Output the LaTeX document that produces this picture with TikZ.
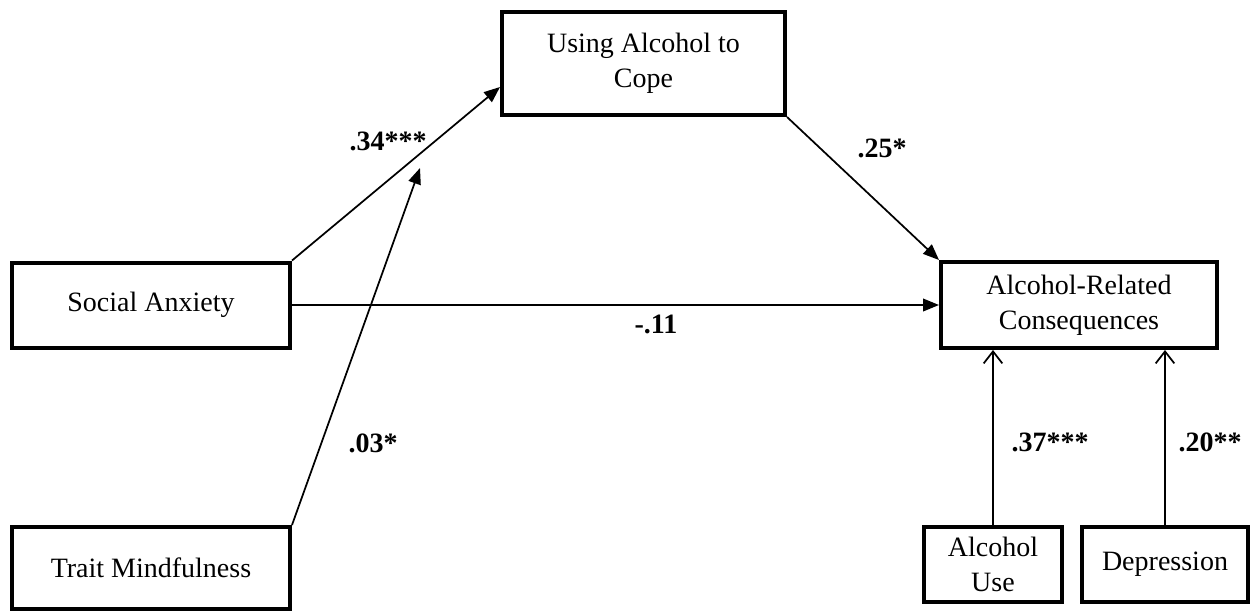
\documentclass[tikz,border=0pt]{standalone}
\usepackage{fontspec}
\setmainfont{Liberation Serif}
\usetikzlibrary{arrows.meta}
\tikzset{
  box/.style={draw, line width=3pt, inner sep=0pt, align=center,
    font=\fontsize{21}{26.25}\selectfont},
  lbl/.style={inner sep=0pt, font=\fontsize{21}{25}\selectfont\bfseries},
  conn/.style={line width=1.3pt, -{Triangle[length=12pt,width=9.5pt]}},
  openconn/.style={line width=1.3pt, -{Straight Barb[length=9pt,width=14pt,line width=1.3pt]}}
}
\begin{document}
\begin{tikzpicture}[x=0.75pt,y=-0.75pt]
\useasboundingbox (0,0) rectangle (1252,611);
\node[box, minimum width=212.25pt, minimum height=77.25pt] (cope) at (643.5,63.5) {Using Alcohol to\\Cope};
\node[box, minimum width=208.5pt, minimum height=63.75pt] (sa) at (151,305) {Social Anxiety};
\node[box, minimum width=208.5pt, minimum height=61.5pt] (tm) at (151,568) {Trait Mindfulness};
\node[box, minimum width=207pt, minimum height=64.5pt] (arc) at (1079,305) {Alcohol-Related\\Consequences};
\node[box, minimum width=103.5pt, minimum height=56.25pt] (au) at (993,564.5) {Alcohol\\Use};
\node[box, minimum width=124.5pt, minimum height=56.25pt] (dep) at (1165,564.5) {Depression};
\coordinate (copein) at ([yshift=22.5pt]cope.south west);
\coordinate (mod) at (420,168);
\draw[conn] (sa.north east) -- (copein);
\draw[conn] (tm.north east) -- (mod);
\draw[conn] (cope.south east) -- (arc.north west);
\draw[conn] (sa.east) -- (arc.west);
\draw[openconn] (au.north) -- (au.north |- arc.south);
\draw[openconn] (dep.north) -- (dep.north |- arc.south);
\node[lbl] (l34) at (388,141) {.34***};
\node[lbl] (l25) at (882,148) {.25*};
\node[lbl] (l03) at (373,443) {.03*};
\node[lbl] (l11) at (656,324) {-.11};
\node[lbl] (l37) at (1050,442) {.37***};
\node[lbl] (l20) at (1210,442) {.20**};
\end{tikzpicture}
\end{document}
